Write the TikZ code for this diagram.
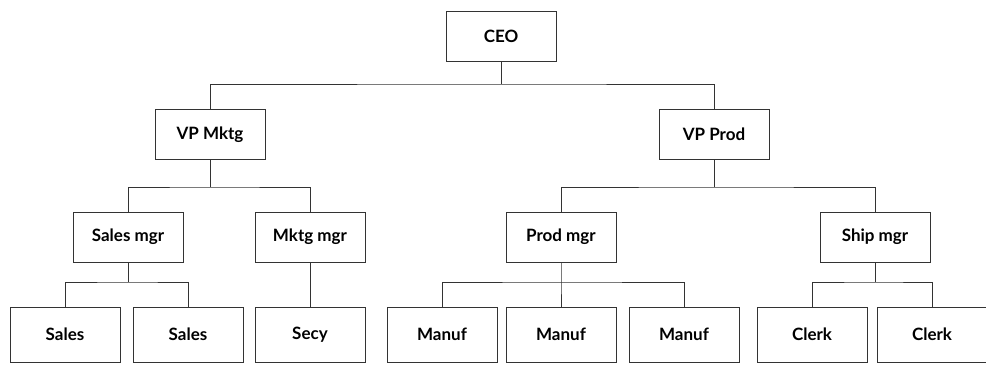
\documentclass[tikz,border=0pt]{standalone}
\usepackage{fontspec}
\setmainfont{Lato}
\begin{document}
\begin{tikzpicture}[x=1pt,y=-1pt,
  box/.style={draw=black!80, line width=0.9pt, fill=white, inner sep=0pt,
    minimum width=110pt, minimum height=50pt,
    font=\fontsize{17}{20}\selectfont\bfseries},
  leaf/.style={box, minimum height=55pt},
  link/.style={draw=black!80, line width=0.9pt}]
\useasboundingbox (0,0) rectangle (986,366);
% top
\node[box] (ceo) at (501,36) {CEO};
% vice presidents
\node[box] (vpm) at (210,134.5) {VP Mktg};
\node[box] (vpp) at (714,134.5) {VP Prod};
% managers
\node[box] (smgr) at (128,237) {Sales mgr};
\node[box] (mmgr) at (310,237) {Mktg mgr};
\node[box] (pmgr) at (561,237) {Prod mgr};
\node[box] (shmgr) at (875,237) {Ship mgr};
% staff
\node[leaf] (s1) at (65,334.5) {Sales};
\node[leaf] (s2) at (188,334.5) {Sales};
\node[leaf] (secy) at (310,334.5) {Secy};
\node[leaf] (m1) at (442,334.5) {Manuf};
\node[leaf] (m2) at (561,334.5) {Manuf};
\node[leaf] (m3) at (684,334.5) {Manuf};
\node[leaf] (c1) at (812,334.5) {Clerk};
\node[leaf] (c2) at (932,334.5) {Clerk};
% bus junctions
\coordinate (b0) at (501,84);
\coordinate (bm) at (210,187);
\coordinate (bp) at (714,187);
\coordinate (bs) at (128,282);
\coordinate (bpm) at (561,282);
\coordinate (bsh) at (875,282);
% connectors
\draw[link] (ceo.south) -- (b0);
\draw[link] (vpm.north) |- (b0) -| (vpp.north);
\draw[link] (vpm.south) -- (bm);
\draw[link] (smgr.north) |- (bm) -| (mmgr.north);
\draw[link] (vpp.south) -- (bp);
\draw[link] (pmgr.north) |- (bp) -| (shmgr.north);
\draw[link] (smgr.south) -- (bs);
\draw[link] (s1.north) |- (bs) -| (s2.north);
\draw[link] (mmgr.south) -- (secy.north);
\draw[link] (pmgr.south) -- (bpm) -- (m2.north);
\draw[link] (m1.north) |- (bpm) -| (m3.north);
\draw[link] (shmgr.south) -- (bsh);
\draw[link] (c1.north) |- (bsh) -| (c2.north);
\end{tikzpicture}
\end{document}
